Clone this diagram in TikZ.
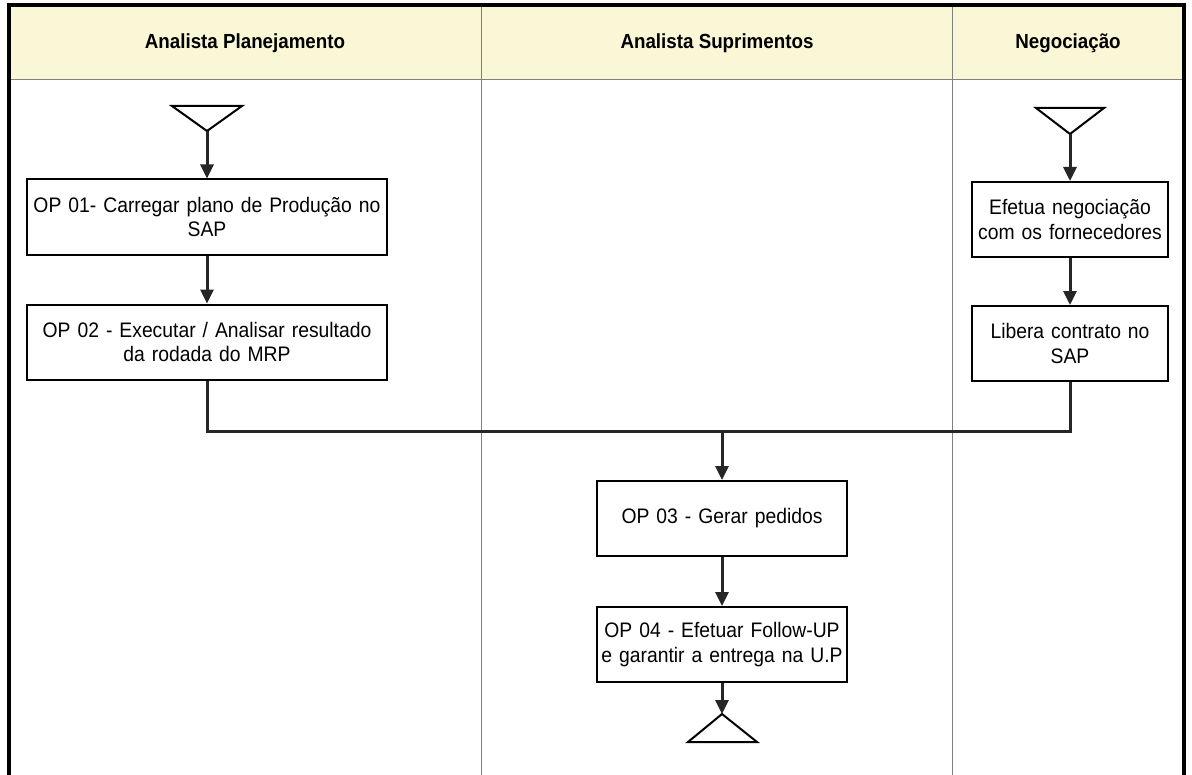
\documentclass[tikz,border=0pt]{standalone}
\usepackage{fontspec}
\setmainfont[FakeStretch=0.92]{Liberation Sans}
\usetikzlibrary{arrows.meta}
\definecolor{headfill}{RGB}{250,247,214}
\tikzset{>={Triangle[length=7pt,width=6.5pt]}}
\tikzstyle{opbox} = [draw, line width=1pt, align=center, inner sep=2pt,
    minimum height=37.5pt, font=\fontsize{10.5}{12.2}\selectfont]
\tikzstyle{lane} = [font=\bfseries\fontsize{10.2}{11}\selectfont]
\tikzstyle{flow} = [line width=1.5pt, draw=black!85]
\tikzstyle{term} = [line width=1pt, line join=miter]

\begin{document}
\begin{tikzpicture}[x=0.5pt,y=-0.5pt]
\useasboundingbox (0,0) rectangle (1192,775);
    %header band
    \fill[headfill] (9,5) rectangle (1184,80);
    \draw[gray, line width=0.5pt] (9,80) -- (1184,80);
    %lane separators
    \foreach \x in {481,952}
    {\draw[gray, line width=0.5pt] (\x,5) -- (\x,775);}
    %outer frame, open at the bottom
    \draw[line width=1.8pt] (9,775) -- (9,5) -- (1184,5) -- (1184,775);
    \node[lane] (planej) at (245,43) {Analista Planejamento};
    \node[lane] (suprim) at (717,43) {Analista Suprimentos};
    \node[lane] (negoc) at (1068,43) {Negociação};

    %start and end symbols
    \coordinate (startA) at (207,131);
    \coordinate (startN) at (1070,134);
    \coordinate (fim) at (722,714);
    \draw[term] (172,106) -- (242,106) -- (startA) -- cycle;
    \draw[term] (1036,108) -- (1104,108) -- (startN) -- cycle;
    \draw[term] (fim) -- (757,742) -- (688,742) -- cycle;

    %operations
    \node[opbox, text width=176pt] (op01) at (207,217)
        {OP 01- Carregar plano de Produção no\\SAP};
    \node[opbox, text width=176pt] (op02) at (207,342)
        {OP 02 - Executar / Analisar resultado\\da rodada do MRP};
    \node[opbox, text width=94pt] (efetua) at (1070,219.5)
        {Efetua negociação\\com os fornecedores};
    \node[opbox, text width=94pt] (libera) at (1070,343.5)
        {Libera contrato no\\SAP};
    \node[opbox, text width=121pt] (op03) at (722,518.5)
        {OP 03 - Gerar pedidos};
    \node[opbox, text width=121pt] (op04) at (722,644.5)
        {OP 04 - Efetuar Follow-UP\\e garantir a entrega na U.P};

    %connectors
    \coordinate (merge) at (722,431);
    \foreach \from/\to in {startA/op01, op01/op02, startN/efetua,
        efetua/libera, merge/op03, op03/op04, op04/fim}
    {\draw[flow,->] (\from) -- (\to);}
    \draw[flow] (op02.south) |- (merge);
    \draw[flow] (libera.south) |- (merge);
\end{tikzpicture}
\end{document}
